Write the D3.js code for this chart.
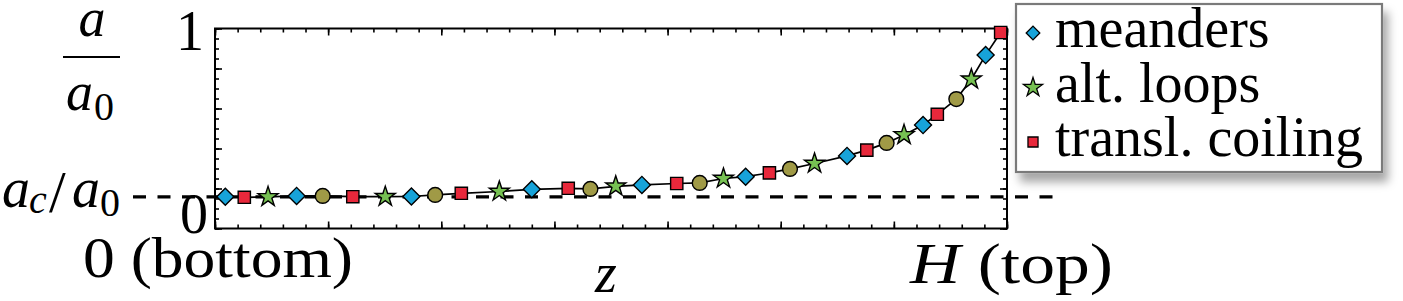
<!DOCTYPE html>
<html><head><meta charset="utf-8">
<script src="https://cdn.jsdelivr.net/npm/d3@7"></script>
<style>
body{margin:0;background:#fff}
svg{display:block}
text{font-family:"Liberation Serif","Times New Roman",serif;fill:#000}
</style>
</head><body>
<svg id="c" width="1403" height="301"></svg>
<script>
// ---- data (z / H, a / a0, regime) ----
const zPos = [0.013,0.037,0.067,0.103,0.136,0.174,0.215,0.248,0.278,0.311,0.359,0.400,0.446,0.474,0.506,0.539,0.583,0.612,0.642,0.670,0.700,0.726,0.757,0.798,0.823,0.848,0.870,0.894,0.912,0.936,0.955,0.973,0.992];
const aRatio = [0.159,0.156,0.158,0.163,0.163,0.159,0.159,0.160,0.168,0.176,0.185,0.196,0.201,0.198,0.211,0.218,0.225,0.228,0.250,0.259,0.278,0.298,0.325,0.363,0.392,0.428,0.468,0.517,0.571,0.647,0.746,0.867,0.980];
const regime = ["meander","coil","loop","meander","mixed","coil","loop","meander","mixed","coil","loop","meander","coil","mixed","loop","meander","coil","mixed","loop","meander","coil","mixed","loop","meander","coil","mixed","loop","meander","coil","mixed","loop","meander","coil"];
const acRatio = 0.158;
const legendRegimes = ["meander","loop","coil"];
const legendLabels = ["meanders","alt. loops","transl. coiling"];
const yTickValues = [0,1];
const yTickLabels = ["0","1"];

const colors = {meander:"#17a3d9", loop:"#76c152", coil:"#e8283b", mixed:"#a09a46"};

const svg = d3.select("#c");
const x = d3.scaleLinear().domain([0,1]).range([215,1007]);
const y = d3.scaleLinear().domain([0,1]).range([228.5,28.5]);

// ---- frame ticks ----
const xMinor = d3.range(0,36).map(i=>i/35);
const xMajor = xMinor.filter((d,i)=>i%5===0);
const yMinor = d3.range(0,21).map(i=>i/20);
const yMajor = yMinor.filter((d,i)=>i%4===0);

function tickAxis(axisFn, scale, vals, size, tr){
  const g = svg.append("g").attr("transform",tr)
    .call(axisFn(scale).tickValues(vals).tickSize(-size).tickFormat(""));
  g.select(".domain").remove();
  g.selectAll("line").attr("stroke","#000").attr("stroke-width",1.6);
}
tickAxis(d3.axisBottom, x, xMinor, 4, `translate(0,${y(0)})`);
tickAxis(d3.axisBottom, x, xMajor, 7, `translate(0,${y(0)})`);
tickAxis(d3.axisTop, x, xMinor, 4, `translate(0,${y(1)})`);
tickAxis(d3.axisTop, x, xMajor, 7, `translate(0,${y(1)})`);
tickAxis(d3.axisLeft, y, yMinor, 4, `translate(${x(0)},0)`);
tickAxis(d3.axisLeft, y, yMajor, 7, `translate(${x(0)},0)`);
tickAxis(d3.axisRight, y, yMinor, 4, `translate(${x(1)},0)`);
tickAxis(d3.axisRight, y, yMajor, 7, `translate(${x(1)},0)`);

svg.append("rect").attr("x",x(0)).attr("y",y(1)).attr("width",x(1)-x(0)).attr("height",y(0)-y(1))
  .attr("fill","none").attr("stroke","#000").attr("stroke-width",2);

// ---- critical dashed line ----
svg.append("line").attr("x1",133).attr("x2",1058).attr("y1",y(acRatio)).attr("y2",y(acRatio))
  .attr("stroke","#000").attr("stroke-width",3.4).attr("stroke-dasharray","13,11.5");

// ---- data line + markers ----
const pts = zPos.map((z,i)=>({z, a:aRatio[i], r:regime[i]}));
svg.append("path").datum(pts)
  .attr("d", d3.line().x(d=>x(d.z)).y(d=>y(d.a)))
  .attr("fill","none").attr("stroke","#000").attr("stroke-width",1.7);

function markerPath(r, s){
  s = s||1;
  if(r==="meander") return d3.symbol(d3.symbolSquare, 145*s*s)();
  if(r==="coil") return d3.symbol(d3.symbolSquare, 150*s*s)();
  if(r==="loop") return d3.symbol(d3.symbolStar, 125*s*s)();
  return d3.symbol(d3.symbolCircle, 172*s*s)();
}
svg.append("g").selectAll("path.m").data(pts).join("path")
  .attr("class","m")
  .attr("d", d=>markerPath(d.r))
  .attr("transform", d=>`translate(${x(d.z)},${y(d.a)})` + (d.r==="meander"?" rotate(45)":""))
  .attr("fill", d=>colors[d.r]).attr("stroke","#000").attr("stroke-width",1.4);

// ---- tick labels ----
svg.append("g").selectAll("text").data(yTickValues).join("text")
  .attr("x", (d,i)=> i===0 ? 208 : 204)
  .attr("y", d=> d===1 ? 50 : 233)
  .attr("text-anchor","end").attr("font-size",56)
  .text((d,i)=>yTickLabels[i]);

svg.append("text").attr("x",83).attr("y",277).attr("font-size",56)
  .attr("textLength",270).attr("lengthAdjust","spacingAndGlyphs").text("0 (bottom)");
const ht = svg.append("text").attr("x",910).attr("y",283).attr("font-size",56)
  .attr("textLength",203).attr("lengthAdjust","spacingAndGlyphs");
ht.append("tspan").attr("font-style","italic").text("H");
ht.append("tspan").text(" (top)");

// x axis title
svg.append("text").attr("x",606).attr("y",292).attr("font-size",56).attr("font-style","italic")
  .attr("text-anchor","middle").text("z");

// y axis title: a / a0
svg.append("text").attr("x",92).attr("y",36).attr("font-size",54).attr("font-style","italic")
  .attr("text-anchor","middle").text("a");
svg.append("line").attr("x1",63).attr("x2",120).attr("y1",57).attr("y2",57)
  .attr("stroke","#000").attr("stroke-width",2);
svg.append("text").attr("x",66).attr("y",110).attr("font-size",54).attr("font-style","italic").text("a");
svg.append("text").attr("x",94).attr("y",120).attr("font-size",40).text("0");

// a_c / a_0 label
svg.append("text").attr("x",2).attr("y",207).attr("font-size",56).attr("font-style","italic").text("a");
svg.append("text").attr("x",29).attr("y",213).attr("font-size",40).attr("font-style","italic").text("c");
svg.append("text").attr("x",49).attr("y",212).attr("font-size",60).text("/");
svg.append("text").attr("x",72).attr("y",207).attr("font-size",56).attr("font-style","italic").text("a");
svg.append("text").attr("x",100).attr("y",216).attr("font-size",40).text("0");

// ---- legend ----
const defs = svg.append("defs");
const f = defs.append("filter").attr("id","sh").attr("x","-10%").attr("y","-10%").attr("width","130%").attr("height","140%");
f.append("feDropShadow").attr("dx",5).attr("dy",9).attr("stdDeviation",5)
  .attr("flood-color","#000").attr("flood-opacity",0.35);

const lg = svg.append("g");
lg.append("rect").attr("x",1016).attr("y",4).attr("width",366).attr("height",168)
  .attr("fill","#fff").attr("stroke","#7a7a7a").attr("stroke-width",2.2).attr("filter","url(#sh)");
const legY = d3.scalePoint().domain(legendRegimes).range([33,142]);
lg.selectAll("path").data(legendRegimes).join("path")
  .attr("d", d=>markerPath(d, d==="meander"?0.8:(d==="loop"?0.95:0.82)))
  .attr("transform", d=>`translate(1033,${legY(d)})` + (d==="meander"?" rotate(45)":""))
  .attr("fill", d=>colors[d]).attr("stroke","#000").attr("stroke-width",1.3);
lg.selectAll("text").data(legendRegimes).join("text")
  .attr("x",1055).attr("y", d=>legY(d)+14).attr("font-size",56)
  .text((d,i)=>legendLabels[i]);
</script>
</body></html>
